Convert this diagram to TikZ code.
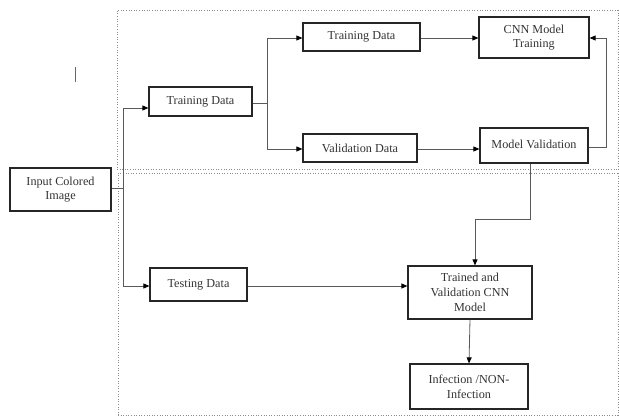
\documentclass[tikz,border=0pt]{standalone}
\usepackage{fontspec}
\setmainfont{Liberation Serif}
\usetikzlibrary{arrows.meta}
\begin{document}
\begin{tikzpicture}[x=1pt,y=-1pt,
  box/.style={draw=black!85,line width=1.2pt,inner sep=0pt,align=center,font=\fontsize{12.2}{14.7}\selectfont,text=black!80},
  conn/.style={draw=black!65,line width=0.8pt},
  arr/.style={conn,-{Triangle[length=6pt,width=5pt,fill=black,color=black]}},
  frame/.style={draw=black!45,line width=0.6pt,dotted}]
\useasboundingbox (0,0) rectangle (619,419);
% frames
\draw[frame] (117,170) -- (117,10) -- (619,10);
\draw[frame] (117,169) -- (619,169);
\draw[frame] (618,10) -- (618,169);
\draw[frame] (118,415) -- (118,173) -- (619,173);
\draw[frame] (118,415) -- (619,415);
\draw[frame] (618,173) -- (618,415);
% stray mark
\draw[black!60,line width=0.7pt] (75,67) -- (75,82);
% nodes
\node[box,minimum width=101pt,minimum height=43pt] (in) at (60.5,189.5) {Input Colored\\Image};
\node[box,minimum width=103pt,minimum height=29pt] (td) at (200.5,101.5) {Training Data};
\node[box,minimum width=117pt,minimum height=28pt] (td2) at (361.5,37) {Training Data};
\node[box,minimum width=114pt,minimum height=28pt] (vd) at (360,148) {Validation Data};
\node[box,minimum width=110pt,minimum height=41pt] (cnn) at (534,37.5) {CNN Model\\Training};
\node[box,minimum width=108pt,minimum height=35pt] (mv) at (534,145.5) {\raisebox{3pt}{Model Validation}};
\node[box,minimum width=97pt,minimum height=33pt] (ts) at (198.5,284.5) {\raisebox{2pt}{Testing Data}};
\node[box,minimum width=124pt,minimum height=53pt] (tr) at (470,292.5) {Trained and\\Validation CNN\\Model};
\node[box,minimum width=118pt,minimum height=45pt] (inf) at (469,386.5) {Infection /NON-\\Infection};
% junction coordinates
\coordinate (j1) at (123,188);
\coordinate (j2) at (267,103);
\coordinate (j3) at (606,147);
\coordinate (j4) at (530,219);
\coordinate (j5) at (475,219);
% connectors
\draw[conn] (in.east |- j1) -- (j1);
\draw[arr] (j1) |- (td.west |- 0,108);
\draw[arr] (j1) |- (ts.west |- 0,286);
\draw[conn] (td.east |- j2) -- (j2);
\draw[arr] (j2) |- (td2.west |- 0,38);
\draw[arr] (j2) |- (vd.west |- 0,149);
\draw[arr] (td2.east |- 0,38) -- (cnn.west |- 0,38);
\draw[arr] (vd.east |- 0,149) -- (mv.west |- 0,149);
\draw[arr] (mv.east |- j3) -- (j3) |- (cnn.east |- 0,38);
\draw[arr] (mv.south -| j4) -- (j4) -- (j5) -- (tr.north -| j5);
\draw[arr] (ts.east |- 0,286) -- (tr.west |- 0,286);
\draw[arr] (tr.south) -- (inf.north);
\end{tikzpicture}
\end{document}
